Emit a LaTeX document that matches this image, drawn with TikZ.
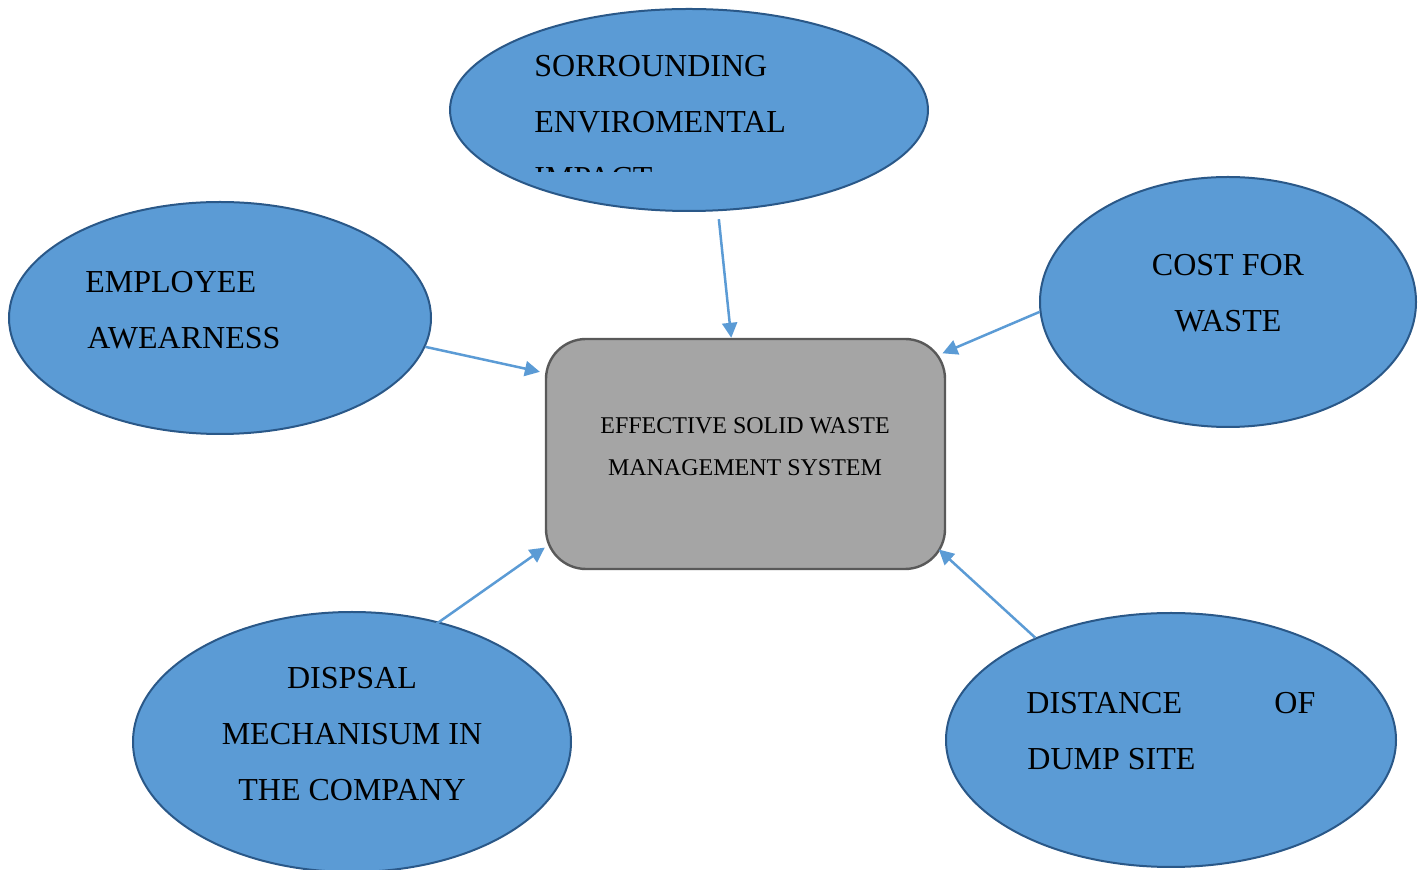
\documentclass[tikz,border=0pt]{standalone}
\usepackage{fontspec}
\setmainfont{Liberation Serif}
\usetikzlibrary{shapes.geometric,arrows.meta}
\definecolor{bubble}{HTML}{5B9BD5}
\definecolor{bubbleedge}{HTML}{2A5888}
\definecolor{hubfill}{HTML}{A5A5A5}
\definecolor{hubedge}{HTML}{595959}
\definecolor{linkcol}{HTML}{5B9BD5}
\tikzset{
  factor/.style={ellipse, draw=bubbleedge, fill=bubble, line width=1pt, inner sep=0pt},
  hub/.style={rectangle, rounded corners=20pt, draw=hubedge, fill=hubfill, line width=1.2pt, inner sep=0pt},
  bigl/.style={inner sep=0pt, anchor=base west, font=\fontsize{16}{16}\selectfont},
  bigc/.style={bigl, anchor=base},
  smallc/.style={inner sep=0pt, anchor=base, font=\fontsize{12}{12}\selectfont},
  link/.style={draw=linkcol, line width=1.25pt, -{Triangle[length=7.5pt,width=7.5pt]}},
}
\begin{document}
\begin{tikzpicture}[x=0.5pt,y=-0.5pt]
\useasboundingbox (0,0) rectangle (1426,870);
\clip (0,0) rectangle (1426,870);

% factor bubbles and the central system box
\node[factor, minimum width=239pt, minimum height=101pt] (env) at (689,110) {};
\node[factor, minimum width=211pt, minimum height=116pt] (emp) at (220,318) {};
\node[factor, minimum width=188pt, minimum height=125pt] (cost) at (1228,302) {};
\node[factor, minimum width=219pt, minimum height=130pt] (disp) at (352,742) {};
\node[factor, minimum width=225pt, minimum height=127pt] (dist) at (1171,740) {};
\node[hub, minimum width=199.5pt, minimum height=115pt] (sys) at (745.5,454) {};

% bubble labels
\begin{scope}
  \clip (450,0) rectangle (930,172);
  \node[bigl] (env1) at (534,77) {SORROUNDING};
  \node[bigl] (env2) at (534,133) {ENVIROMENTAL};
  \node[bigl] (env3) at (534,189) {IMPACT};
\end{scope}
\node[bigl] (emp1) at (85,293) {EMPLOYEE};
\node[bigl] (emp2) at (87,349) {AWEARNESS};
\node[bigc] (cost1) at (1228,276) {COST FOR};
\node[bigc] (cost2) at (1228,332) {WASTE};
\node[bigc] (disp1) at (352,689) {DISPSAL};
\node[bigc] (disp2) at (352,745) {MECHANISUM IN};
\node[bigc] (disp3) at (352,801) {THE COMPANY};
\node[bigl] (dist1) at (1026,714) {\makebox[144.5pt][l]{DISTANCE\hfill OF}};
\node[bigl] (dist2) at (1027,770) {DUMP SITE};
\node[smallc] (sys1) at (745,434) {EFFECTIVE SOLID WASTE};
\node[smallc] (sys2) at (745,476) {MANAGEMENT SYSTEM};

% influence arrows
\draw[link, shorten <=4pt] (env.-74.5) -- (sys.97.2);
\draw[link, shorten >=2.5pt] (emp.-8.6) -- (sys.158.6);
\draw[link, shorten >=-2pt] (cost.183.4) -- (sys.27.3);
\draw[link, shorten <=-4pt] (disp.54.5) -- (sys.-155);
\draw[link, shorten >=-5pt] (dist.143.1) -- (sys.-27.2);
\end{tikzpicture}
\end{document}
